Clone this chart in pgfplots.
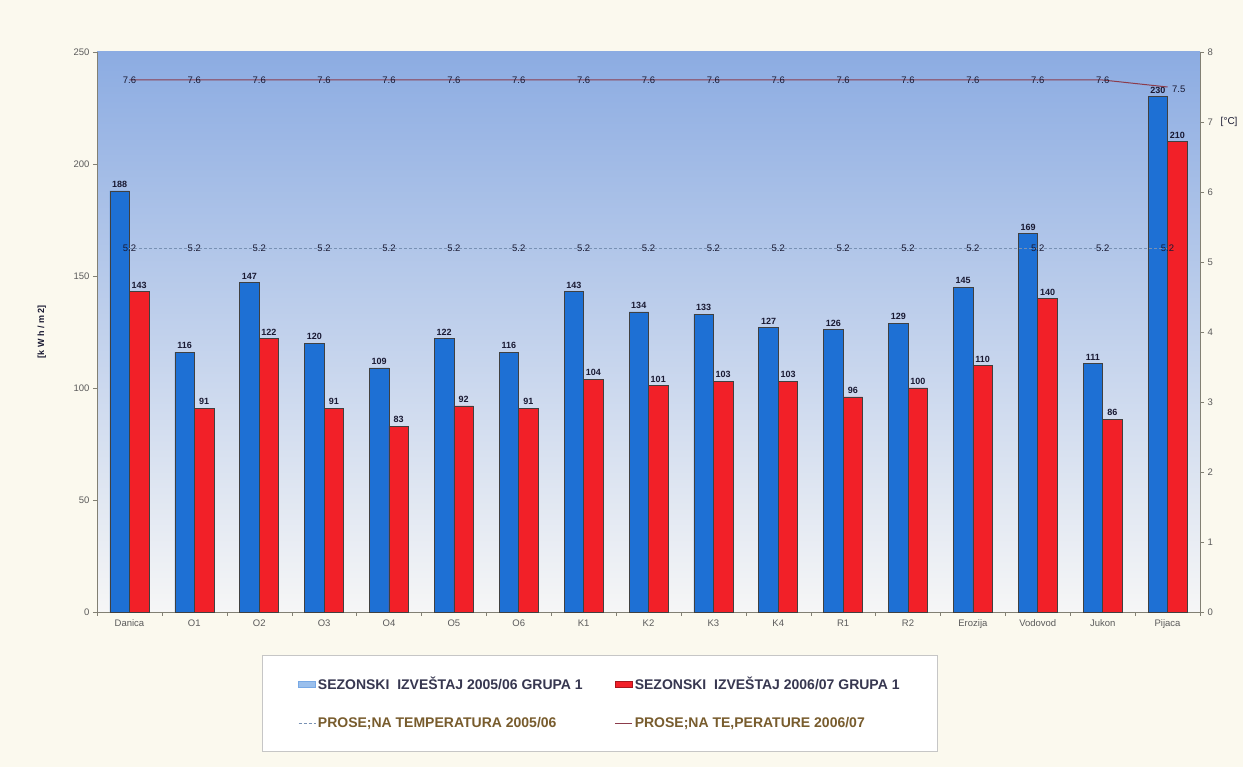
\documentclass[border=0pt]{standalone}
\usepackage{fontspec}
\setmainfont{Liberation Sans}
\usepackage{pgfplots}
\pgfplotsset{compat=1.18}
\definecolor{paper}{RGB}{251,249,238}
\definecolor{barblue}{RGB}{30,112,212}
\definecolor{barred}{RGB}{242,32,40}
\definecolor{bgtop}{RGB}{140,172,226}
\definecolor{bgmid}{RGB}{190,206,236}
\definecolor{bgbot}{RGB}{246,246,246}
\definecolor{lbl}{RGB}{25,25,50}
\definecolor{axgray}{RGB}{130,128,115}
\definecolor{ticktxt}{RGB}{90,90,90}
\definecolor{tline}{RGB}{140,60,75}
\definecolor{dline}{RGB}{120,145,180}
\definecolor{legdark}{RGB}{55,55,80}
\definecolor{legbrown}{RGB}{120,92,45}
\begin{document}
\begin{tikzpicture}
\fill[paper] (0,0) rectangle (1243pt,767pt);
\useasboundingbox (0,0) rectangle (1243pt,767pt);
\begin{axis}[
  at={(97pt,155pt)}, anchor=south west,
  width=1103pt, height=560pt, scale only axis,
  /pgf/number format/assume math mode=true,
  xmin=-0.5, xmax=16.5, ymin=0, ymax=250,
  ybar=0pt, bar width=19.5pt,
  axis x line*=bottom, axis y line*=left,
  axis line style={axgray},
  xtick={0,...,16},
  xticklabels={Danica,O1,O2,O3,O4,O5,O6,K1,K2,K3,K4,R1,R2,Erozija,Vodovod,Jukon,Pijaca},
  major x tick style={draw=none},
  minor xtick={-0.5,0.5,...,16.5},
  minor x tick style={axgray},
  minor tick length=4pt,
  ytick={0,50,...,250},
  major y tick style={axgray},
  tick align=outside, major tick length=4pt,
  tick label style={font=\fontsize{9.5}{10}\selectfont, color=ticktxt},
  ylabel={[k W h / m 2]},
  ylabel style={font=\bfseries\fontsize{9}{10}\selectfont, color=lbl, at={(rel axis cs:-0.043,0.5)}},
  axis background/.style={top color=bgtop, middle color=bgmid, bottom color=bgbot},
  nodes near coords,
  nodes near coords style={font=\bfseries\fontsize{9}{10}\selectfont, color=lbl, inner sep=3pt},
  clip=false,
]
\addplot[fill=barblue, draw=black!75, line width=0.6pt] coordinates {
(0,188) (1,116) (2,147) (3,120) (4,109) (5,122) (6,116) (7,143) (8,134)
(9,133) (10,127) (11,126) (12,129) (13,145) (14,169) (15,111) (16,230)};
\addplot[fill=barred, draw=black!75, line width=0.6pt] coordinates {
(0,143) (1,91) (2,122) (3,91) (4,83) (5,92) (6,91) (7,104) (8,101)
(9,103) (10,103) (11,96) (12,100) (13,110) (14,140) (15,86) (16,210)};
\end{axis}
\begin{axis}[
  at={(97pt,155pt)}, anchor=south west,
  width=1103pt, height=560pt, scale only axis,
  /pgf/number format/assume math mode=true,
  xmin=-0.5, xmax=16.5, ymin=0, ymax=8,
  axis x line=none, axis y line*=right,
  axis line style={axgray},
  ytick={0,...,8},
  major y tick style={axgray},
  tick align=outside, major tick length=4pt,
  tick label style={font=\fontsize{9.5}{10}\selectfont, color=ticktxt},
  clip=false,
  legend columns=2,
  legend style={at={(0.456,-0.077)}, anchor=north, draw=gray!45, fill=white,
    font=\bfseries\fontsize{14}{16}\selectfont, inner xsep=36pt, inner ysep=20pt,
    row sep=22pt,
    /tikz/every even column/.append style={column sep=30pt}},
  legend cell align=left,
  nodes near coords style={font=\fontsize{9.5}{10}\selectfont, color=lbl, anchor=center},
]
\addlegendimage{area legend, fill=barblue!45, draw=barblue!60}
\addlegendentry{\textcolor{legdark}{SEZONSKI\ \ IZVEŠTAJ 2005/06 GRUPA 1}}
\addlegendimage{area legend, fill=barred, draw=barred!70!black}
\addlegendentry{\textcolor{legdark}{SEZONSKI\ \ IZVEŠTAJ 2006/07 GRUPA 1}}
\addplot[dline, densely dashed, line width=0.5pt, nodes near coords] coordinates {
(0,5.2) (1,5.2) (2,5.2) (3,5.2) (4,5.2) (5,5.2) (6,5.2) (7,5.2) (8,5.2)
(9,5.2) (10,5.2) (11,5.2) (12,5.2) (13,5.2) (14,5.2) (15,5.2) (16,5.2)};
\addlegendentry{\textcolor{legbrown}{PROSE;NA TEMPERATURA 2005/06}}
\addplot[tline, line width=1pt] coordinates {
(0,7.6) (1,7.6) (2,7.6) (3,7.6) (4,7.6) (5,7.6) (6,7.6) (7,7.6) (8,7.6)
(9,7.6) (10,7.6) (11,7.6) (12,7.6) (13,7.6) (14,7.6) (15,7.6) (16,7.5)};
\addlegendentry{\textcolor{legbrown}{PROSE;NA TE,PERATURE 2006/07}}
\addplot[draw=none, nodes near coords, forget plot] coordinates {
(0,7.6) (1,7.6) (2,7.6) (3,7.6) (4,7.6) (5,7.6) (6,7.6) (7,7.6) (8,7.6)
(9,7.6) (10,7.6) (11,7.6) (12,7.6) (13,7.6) (14,7.6) (15,7.6)};
\addplot[draw=none, nodes near coords, forget plot,
  nodes near coords style={anchor=west, xshift=1pt, yshift=-2pt}] coordinates {(16,7.5)};
\node[font=\fontsize{10}{11}\selectfont, color=lbl, anchor=east] at (rel axis cs:1.0372,0.875) {[°C]};
\end{axis}
\end{tikzpicture}
\end{document}
